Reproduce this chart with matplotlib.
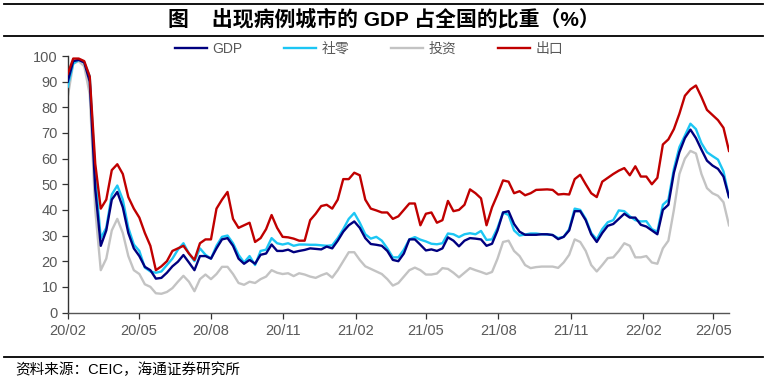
import matplotlib
matplotlib.use('Agg')
import matplotlib.pyplot as plt
import pandas as pd
from matplotlib.lines import Line2D

# ---------------- data (weekly) ----------------
start_date = '2020-02-01'
series_names = ['GDP', '社零', '投资', '出口']

gdp = [90, 98, 98.5, 97.5, 90, 48, 26, 32, 44, 47,
       41, 31, 25, 22, 17.8, 16.5, 13.2, 13.5, 15.5, 18,
       19.8, 22.4, 19.5, 16.5, 22, 22, 21, 25, 28.5, 29,
       26, 21, 19, 20.5, 19, 22.5, 23, 26.5, 24, 24,
       24.5, 23.5, 24, 24.4, 25, 24.8, 24.6, 25.7, 25, 28,
       31.5, 34, 35.5, 33, 29, 26.7, 26.4, 26, 24, 20.5,
       20, 23, 28.5, 28.5, 26.4, 24.2, 24.6, 24, 25, 29.3,
       28, 25.8, 28, 29, 28.8, 28.5, 26, 26.8, 32, 39,
       39.5, 34.5, 31.5, 30.3, 30.3, 30.3, 30.5, 30.5, 30.2, 28.6,
       29.5, 32, 39.5, 39.5, 36, 30.5, 27.5, 31, 33.8, 34.5,
       36.5, 38.5, 37, 37, 34.2, 33.5, 32, 30.5, 40, 42,
       54.5, 62.5, 68, 71.3, 68, 63.5, 59.2, 57.3, 56, 53,
       45]

retail = [88, 97, 98.5, 97.5, 92, 53, 29, 33, 46, 49.5,
          44, 33, 26.5, 24, 17.5, 16, 15.5, 16, 18.5, 21,
          24.5, 27, 23, 20, 25, 22.5, 21, 26, 29.5, 30,
          27, 22.5, 19.5, 22, 18.5, 24, 24.5, 29, 27, 26.5,
          27, 26, 26.5, 26.5, 26.4, 26.4, 26.2, 26, 26.2, 29,
          32.5, 36.5, 38.8, 35, 30.5, 28.8, 29.5, 28, 25, 21.5,
          21.5, 24.5, 28.5, 29.4, 28.4, 27.7, 26.8, 26.6, 27, 30.8,
          30.5, 29.4, 30.5, 30.9, 30.5, 31.8, 28.3, 28.5, 33, 39,
          38, 32, 30, 30.4, 30.8, 30.8, 30.5, 30.4, 30.2, 29,
          29.5, 32.5, 40.5, 40, 36.5, 31, 28.5, 32.5, 35.2, 36,
          39.8, 39.5, 37.5, 36, 35.5, 35.6, 32.5, 31.5, 42, 44,
          56, 64.5, 69, 73.6, 71.5, 66, 62.5, 61, 59.6, 55,
          45]

invest = [84, 97, 98, 96, 85, 40, 16.5, 21, 32, 36.5,
          31, 22, 16.5, 15, 11, 10, 7.5, 7.3, 8, 9.5,
          12, 14.3, 12, 8.3, 13, 14.8, 13, 15, 17.8, 17.8,
          15, 11.5, 10.8, 12, 11.5, 13, 14, 16.5, 15.5, 15,
          15.3, 14.2, 15.3, 14.8, 14, 13.5, 14.5, 15.3, 13.6, 16.5,
          20, 23.5, 23.5, 20.5, 18, 17, 16, 15, 13, 10.5,
          11.5, 14, 16.5, 17.5, 16.5, 14.8, 14.8, 15.2, 17.3, 17,
          15.5, 13.7, 15.5, 17.3, 16.5, 15.8, 15, 15.8, 21, 27.5,
          28, 24, 22, 18.5, 17.3, 17.7, 17.9, 17.9, 17.9, 17.4,
          19.5, 22.5, 28.5, 27.5, 24, 18.5, 16, 18.5, 21.2, 21.5,
          24, 27, 26, 21.5, 21.5, 22, 19.5, 19, 25, 28,
          40, 54, 60, 63, 62, 54, 48.5, 46.5, 45.5, 43,
          34]

export = [93, 99, 99, 98, 92, 58, 40.5, 44, 55.5, 57.8,
          54, 45, 40.5, 37, 31, 26, 16.5, 18, 20, 24,
          25, 26, 23, 20.5, 27, 28.5, 28.5, 40.5, 44, 47,
          36.5, 33, 34, 35, 27.5, 29, 32.5, 38, 33, 29.5,
          29.3, 28.8, 28, 28, 36, 38.5, 41.5, 42, 40.5, 44,
          52, 52, 54.5, 53.5, 44, 40.5, 39.8, 39, 39, 36.5,
          37.5, 40, 42.5, 42.5, 34, 38.5, 39, 35, 36, 43.5,
          39.5, 40, 42, 48, 46.5, 44.5, 34, 41, 46, 51.5,
          51, 46.5, 47.3, 45.7, 46.5, 47.8, 47.9, 48, 47.8, 46,
          46.2, 46, 52, 53.7, 50, 46.5, 45, 51, 52.5, 54,
          55.3, 56.3, 53.5, 57, 53, 53, 50, 52.5, 65.5, 67.5,
          71.5, 77.5, 84.5, 87, 88.5, 84, 79, 77, 75, 72,
          63]

xtick_dates = ['2020-02-01', '2020-05-01', '2020-08-01', '2020-11-01',
               '2021-02-01', '2021-05-01', '2021-08-01', '2021-11-01',
               '2022-02-01', '2022-05-01']
xtick_labels = ['20/02', '20/05', '20/08', '20/11', '21/02', '21/05',
                '21/08', '21/11', '22/02', '22/05']
ytick_values = [0, 10, 20, 30, 40, 50, 60, 70, 80, 90, 100]

title_text = '图    出现病例城市的 GDP 占全国的比重（%）'
source_text = '资料来源：CEIC，海通证券研究所'

# ---------------- figure ----------------
plt.rcParams['font.family'] = ['Liberation Sans', 'Noto Sans CJK SC', 'DejaVu Sans']

W, H = 770, 386
fig = plt.figure(figsize=(W / 100, H / 100), dpi=100)
ax = fig.add_axes([67.7 / W, (H - 312.5) / H, (729 - 67.7) / W, (312.5 - 56) / H])

dates = pd.date_range(start_date, periods=len(gdp), freq='7D')

colors = ['#00007F', '#1CC6F4', '#C3C3C3', '#C00000']
l_gdp, = ax.plot(dates, gdp, color=colors[0], lw=1.7, zorder=4)
l_ret, = ax.plot(dates, retail, color=colors[1], lw=1.7, zorder=3)
l_inv, = ax.plot(dates, invest, color=colors[2], lw=1.7, zorder=2)
l_exp, = ax.plot(dates, export, color=colors[3], lw=1.7, zorder=5)

ax.set_xlim(pd.Timestamp('2020-02-01'), pd.Timestamp('2022-05-21'))
ax.set_ylim(0, 100)
ax.set_yticks(ytick_values)
ax.set_xticks(pd.to_datetime(xtick_dates))
ax.set_xticklabels(xtick_labels)

for s in ['top', 'right']:
    ax.spines[s].set_visible(False)
ax.spines['left'].set_color('#333333')
ax.spines['bottom'].set_color('#555555')
ax.spines['left'].set_linewidth(1.0)
ax.spines['bottom'].set_linewidth(1.0)
ax.tick_params(axis='both', direction='out', length=4, width=0.9, color='#333333',
               labelcolor='#595959', labelsize=10.5)
ax.tick_params(axis='x', pad=4)
ax.tick_params(axis='y', pad=3)

leg = fig.legend([l_gdp, l_ret, l_inv, l_exp], series_names, loc='center',
                 bbox_to_anchor=(369 / W, 1 - 49 / H), ncol=4, frameon=False,
                 fontsize=10, handlelength=2.3, handletextpad=0.4,
                 columnspacing=3.0, labelcolor='#595959')

fig.text(384 / W, 1 - 19 / H, title_text, ha='center', va='center',
         fontsize=15, fontweight='bold', color='black')

for yy in [3.5, 35.5, 356.5]:
    fig.add_artist(Line2D([4 / W, 763 / W], [1 - yy / H, 1 - yy / H],
                          color='black', lw=1.3, transform=fig.transFigure))

fig.text(15 / W, 1 - 370 / H, source_text, ha='left', va='center',
         fontsize=10.5, color='black')

fig.savefig('out.png', dpi=100)
